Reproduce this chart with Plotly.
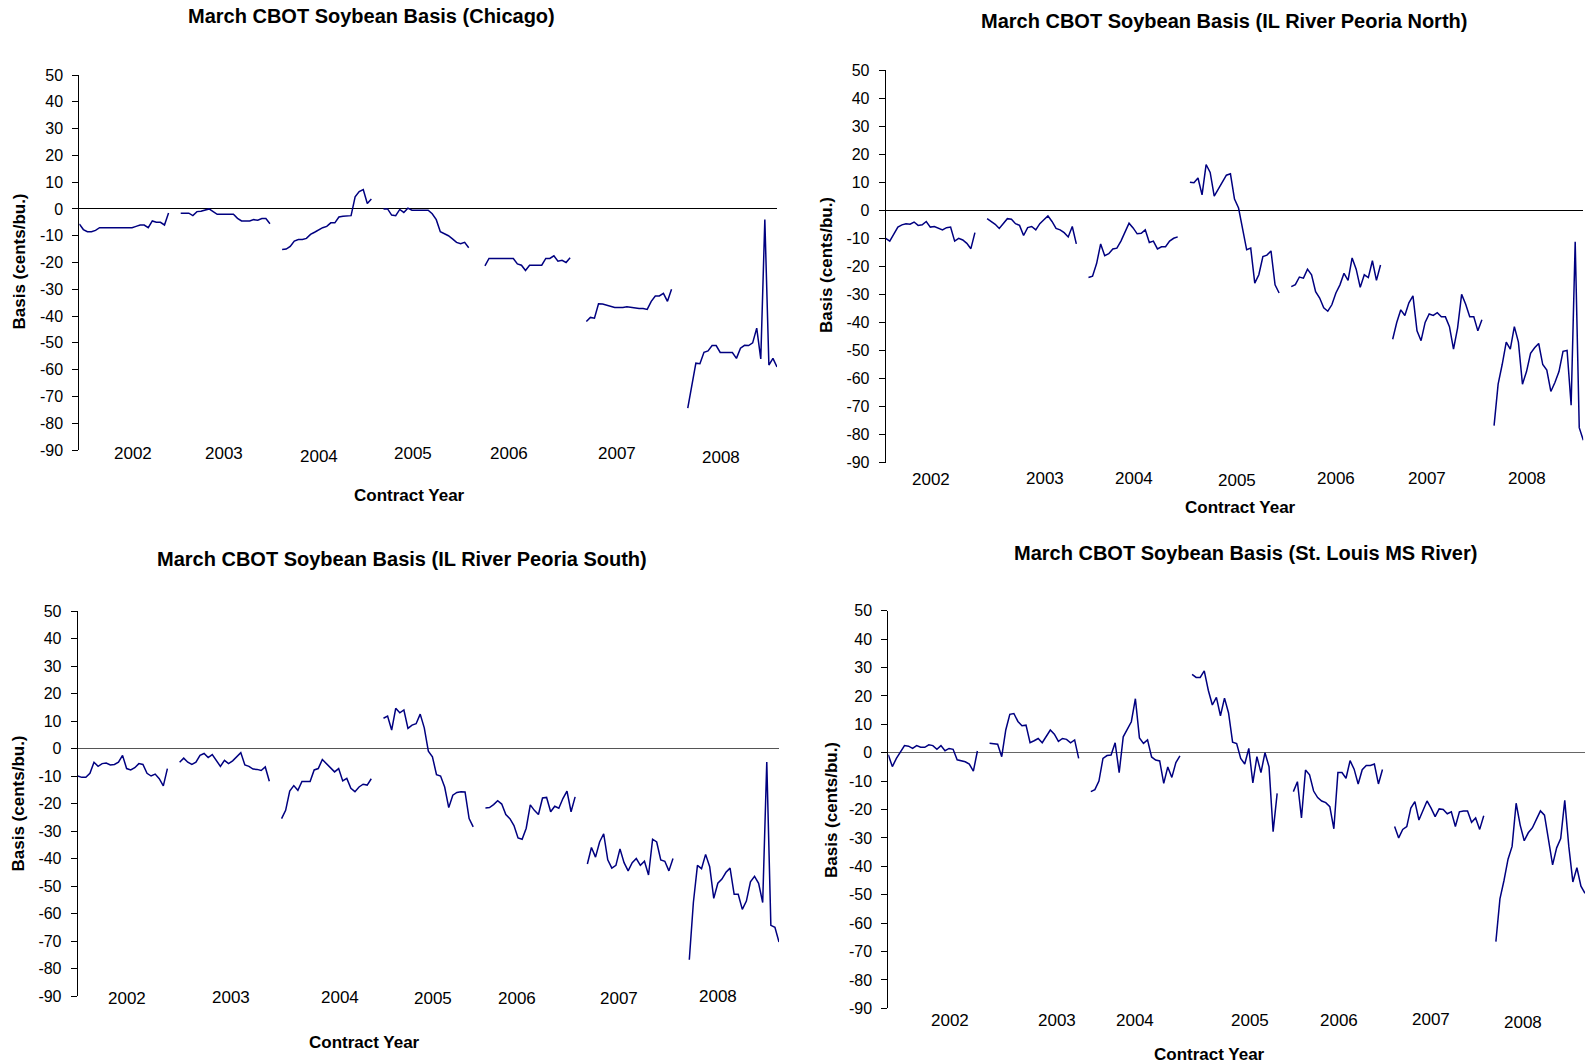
import plotly.graph_objects as go

W, H = 1585, 1064
FONT = "Arial, 'Liberation Sans', sans-serif"
LINE_COLOR = "#000080"

YEARS = ["2002", "2003", "2004", "2005", "2006", "2007", "2008"]
Y_TICKS = list(range(-90, 51, 10))
SLOTS = 23   # observations slots per contract year
GAP = 2      # blank categories between contract years

# ---------------- Chicago ----------------
CHI_2002 = [-5.6, -7.7, -8.5, -8.5, -8, -7, -7, -7, -7, -7, -7, -7, -7, -7, -6.5, -6, -6, -7, -4.5, -5, -5, -6, -1.5]
CHI_2003 = [-1.6, -1.6, -1.6, -2.5, -1, -0.9, -0.4, 0, -1, -2, -2, -2, -2, -2, -3.5, -4.5, -4.5, -4.5, -4, -4.2, -3.6, -3.6, -5.5]
CHI_2004 = [-15.1, -15, -14, -12, -11.4, -11.4, -11, -9.5, -8.7, -7.7, -7, -6.5, -5.2, -5.2, -3, -2.7, -2.7, -2.5, 4.5, 6.5, 7.2, 2, 3.7]
CHI_2005 = [0, 0, -2.3, -2.5, -0.2, -1.3, 0.3, -0.5, -0.5, -0.5, -0.5, -0.5, -1.8, -4, -8.5, -9.2, -10, -11.2, -12.5, -13, -12.5, -14.5]
CHI_2006 = [-21.3, -18.5, -18.5, -18.5, -18.5, -18.5, -18.5, -18.5, -20.5, -21, -23, -21, -21, -21, -21, -18.5, -18.5, -17.5, -19.5, -19.2, -20, -18.2]
CHI_2007 = [-42, -40.5, -40.8, -35.4, -35.5, -36, -36.5, -36.8, -36.8, -36.8, -36.5, -36.8, -37, -37.2, -37.2, -37.5, -34.5, -32.5, -32.5, -31.5, -34.5, -30]
CHI_2008 = [-74.4, -65.5, -57.6, -57.8, -53.5, -53, -51, -51, -53.6, -53.6, -53.6, -53.6, -55.8, -52, -50.9, -51, -50, -44.5, -56, -4, -58.3, -55.8, -59]

# ---------------- IL River Peoria North ----------------
PN_2002 = [-10, -11, -8.5, -6, -5.2, -4.8, -5, -4.2, -5.4, -5.2, -4, -6, -5.8, -6.3, -7, -6.2, -6, -11, -10, -10.6, -11.8, -13.7, -8]
PN_2003 = [-3, -4, -5, -6.5, -4.6, -3, -3.2, -4.8, -5.4, -9, -6.2, -5.8, -7, -4.8, -3.4, -2, -4, -6.5, -7, -8, -9.5, -5.8, -12]
PN_2004 = [-24, -23.5, -19, -12, -16.2, -15.5, -13.8, -13.5, -11, -7.5, -4.6, -6.3, -8.4, -8.2, -7, -11.5, -11, -13.8, -13, -13, -11, -10, -9.5]
PN_2005 = [10, 9.8, 11.5, 5.5, 16.3, 13.5, 5, 7.5, 9.5, 12.5, 13, 4, 0.8, -6, -14.1, -13.5, -26, -23, -16.5, -16, -14.5, -26.6, -29.5]
PN_2006 = [-27.2, -26.5, -23.8, -24.2, -21, -23, -29, -31.3, -34.8, -36, -33.7, -29.5, -26.6, -22.5, -25, -17, -21, -27.5, -23, -24, -18, -25, -19.5]
PN_2007 = [-46, -40, -35.5, -37.5, -33, -30.5, -43, -46.5, -40, -37, -37.5, -36.5, -38, -38, -41.5, -49.5, -42, -30, -33.5, -38, -38, -43, -39]
PN_2008 = [-76.8, -62, -55, -47, -49.5, -41.5, -47, -62, -57.5, -51, -49, -47.5, -55, -57, -64.6, -61.4, -57.5, -50.3, -50, -69.5, -11.2, -77.5, -82]

# ---------------- IL River Peoria South ----------------
PS_2002 = [-10, -10.5, -10.5, -9, -5, -6.5, -5.5, -5.3, -6, -5.8, -5, -2.5, -7.3, -7.8, -7, -5.5, -5.8, -9, -10, -9.3, -11, -13.6, -7.3]
PS_2003 = [-5, -3.5, -5, -5.8, -5, -2.5, -1.8, -3.3, -2.2, -4.5, -6.5, -4.3, -5.5, -4.5, -3, -1.5, -6, -6.5, -7.5, -7.6, -8, -6.7, -11.9]
PS_2004 = [-25.5, -22.5, -15.5, -13.5, -15.2, -12, -12, -12, -7.8, -7.3, -4, -5.6, -7.3, -8.5, -7.3, -11.8, -10.9, -14.5, -15.7, -14, -13, -13.3, -11]
PS_2005 = [11, 11.8, 6.7, 14.6, 13, 14, 7.3, 8.5, 9, 12.5, 7.5, -1, -3, -9.5, -10, -14, -21.5, -17, -16, -15.7, -15.8, -25.5, -28.5]
PS_2006 = [-21.6, -21.5, -20.4, -19, -20.2, -24, -25.5, -28, -32.5, -33, -29, -20.5, -22.5, -24, -18, -17.8, -23, -21, -21.7, -18.2, -15.5, -23, -17.6]
PS_2007 = [-42, -36, -39.5, -34, -31, -40.5, -43.5, -42.5, -36.5, -41.5, -44.5, -41.5, -40, -42.5, -41, -46, -33, -34, -40.5, -41, -44.5, -40]
PS_2008 = [-76.8, -56, -42.5, -43.7, -38.5, -43, -54.5, -49, -47.5, -45, -43.5, -53, -53, -58.5, -55.5, -48.5, -46.5, -49, -56, -4.9, -64.3, -65, -70.4]

# ---------------- St. Louis MS River ----------------
SL_2002 = [-0.7, -4.9, -2, 0.5, 2.5, 2.3, 1.5, 2.5, 1.9, 1.9, 2.8, 2.5, 1.2, 2.5, 0.7, 1.5, 1.2, -2.5, -2.8, -3.2, -4, -6.5, 0.6]
SL_2003 = [3.3, 3.2, 3, -1.4, 8, 13.5, 13.8, 11, 9.5, 9.7, 3.5, 4.2, 5, 3.5, 5.8, 8, 6.5, 4, 5, 4.7, 3.5, 4.5, -2]
SL_2004 = [-13.7, -13, -10, -2, -1, -0.8, 3.5, -7, 5.6, 8.2, 10.9, 19, 5.2, 3.3, 4.5, -1.5, -2.6, -2.9, -10.8, -5, -8.7, -3.5, -1.1]
SL_2005 = [27.6, 26.5, 26.5, 28.8, 22, 16.8, 19.5, 13, 19.2, 14, 3.7, 3.2, -2, -4, 1.5, -10.6, -1.4, -7, 0, -5, -27.8, -14.3]
SL_2006 = [-13.7, -10.2, -23, -6.1, -7.8, -13.5, -15.8, -17, -17.6, -19, -26.8, -7, -7, -9, -2.8, -5.8, -11, -6, -4.5, -4.5, -4, -11, -5.9]
SL_2007 = [-26, -30, -27, -26, -19.5, -17.2, -23.7, -20, -17, -19.5, -22.5, -19.8, -20, -21.5, -20.8, -26, -20.8, -20.5, -20.5, -24.5, -23, -27, -22.2]
SL_2008 = [-66.5, -51.5, -45, -37.5, -33, -17.8, -25.5, -31, -28.2, -26.5, -23.5, -20.5, -22, -30.5, -39.5, -33.5, -30.2, -16.8, -33, -45.5, -40.5, -47, -49.5]

PANELS = [
    dict(title="March CBOT Soybean Basis (Chicago)",
         segs=[CHI_2002, CHI_2003, CHI_2004, CHI_2005, CHI_2006, CHI_2007, CHI_2008],
         xdom=(79.3, 777), ydom=(75, 450), zc="#000000",
         title_pos=(371, 16), ytitle_pos=(19.5, 262), xtitle_pos=(409, 495),
         year_pos=[(132.5, 453), (223.5, 453), (318.5, 456), (412.5, 453), (508.5, 453), (617, 453), (721, 457)]),
    dict(title="March CBOT Soybean Basis (IL River Peoria North)",
         segs=[PN_2002, PN_2003, PN_2004, PN_2005, PN_2006, PN_2007, PN_2008],
         xdom=(885.7, 1583.3), ydom=(70, 462.7), zc="#000000",
         title_pos=(1224, 21), ytitle_pos=(826, 265), xtitle_pos=(1240.5, 507.5),
         year_pos=[(931.3, 479), (1044.5, 478.3), (1134.3, 478.3), (1237.2, 480.7), (1336.3, 478.3), (1426.7, 478.3), (1526.7, 478.3)]),
    dict(title="March CBOT Soybean Basis (IL River Peoria South)",
         segs=[PS_2002, PS_2003, PS_2004, PS_2005, PS_2006, PS_2007, PS_2008],
         xdom=(77.7, 779), ydom=(611, 996), zc="#555555",
         title_pos=(402, 559), ytitle_pos=(17.5, 804), xtitle_pos=(364.5, 1042),
         year_pos=[(126.7, 998.3), (231.3, 997.3), (339.5, 997.3), (432.5, 998.3), (517.3, 998.3), (618.7, 998.3), (718, 996.7)]),
    dict(title="March CBOT Soybean Basis (St. Louis MS River)",
         segs=[SL_2002, SL_2003, SL_2004, SL_2005, SL_2006, SL_2007, SL_2008],
         xdom=(888.3, 1585), ydom=(610.7, 1008.3), zc="#666666",
         title_pos=(1245.5, 553), ytitle_pos=(831, 810), xtitle_pos=(1209.6, 1054.5),
         year_pos=[(949.8, 1020.7), (1057.3, 1020.7), (1134.7, 1020.7), (1250.3, 1020.7), (1339, 1020.7), (1430.7, 1019.3), (1523.3, 1022.7)]),
]


def build(segs):
    xs, ys = [], []
    for k, seg in enumerate(segs):
        base = k * (SLOTS + GAP)
        for i, v in enumerate(seg):
            xs.append(base + i)
            ys.append(v)
        xs.append(None)
        ys.append(None)
    return xs, ys


def px(x):
    return x / W


def py(y):
    return 1 - y / H


fig = go.Figure()
annotations = []
xmax = 7 * (SLOTS + GAP) - GAP - 1

for n, p in enumerate(PANELS, start=1):
    xs, ys = build(p["segs"])
    sfx = "" if n == 1 else str(n)
    fig.add_trace(go.Scatter(x=xs, y=ys, mode="lines", xaxis="x" + sfx, yaxis="y" + sfx,
                             line=dict(color=LINE_COLOR, width=1.5), showlegend=False,
                             connectgaps=False, hoverinfo="skip"))
    fig.layout["xaxis" + sfx] = dict(domain=[px(p["xdom"][0]), px(p["xdom"][1])], range=[0, xmax],
                                     anchor="y" + sfx, visible=False, showgrid=False, zeroline=False)
    fig.layout["yaxis" + sfx] = dict(domain=[py(p["ydom"][1]), py(p["ydom"][0])], range=[-90, 50],
                                     anchor="x" + sfx, tickmode="array", tickvals=Y_TICKS,
                                     ticktext=[str(t) for t in Y_TICKS],
                                     ticks="outside", ticklen=6, tickcolor="#000000", tickwidth=1,
                                     showline=True, linecolor="#000000", linewidth=1,
                                     showgrid=False, zeroline=True, zerolinecolor=p["zc"], zerolinewidth=1,
                                     tickfont=dict(family=FONT, size=16, color="#000000"),
                                     ticklabelstandoff=6, automargin=False)
    annotations.append(dict(text="<b>" + p["title"] + "</b>", x=px(p["title_pos"][0]), y=py(p["title_pos"][1]),
                            xref="paper", yref="paper", showarrow=False, xanchor="center", yanchor="middle",
                            font=dict(family=FONT, size=20, color="#000000")))
    annotations.append(dict(text="<b>Basis (cents/bu.)</b>", x=px(p["ytitle_pos"][0]), y=py(p["ytitle_pos"][1]),
                            xref="paper", yref="paper", showarrow=False, xanchor="center", yanchor="middle",
                            textangle=-90, font=dict(family=FONT, size=17, color="#000000")))
    annotations.append(dict(text="<b>Contract Year</b>", x=px(p["xtitle_pos"][0]), y=py(p["xtitle_pos"][1]),
                            xref="paper", yref="paper", showarrow=False, xanchor="center", yanchor="middle",
                            font=dict(family=FONT, size=17, color="#000000")))
    for yr, (lx, ly) in zip(YEARS, p["year_pos"]):
        annotations.append(dict(text=yr, x=px(lx), y=py(ly), xref="paper", yref="paper", showarrow=False,
                                xanchor="center", yanchor="middle",
                                font=dict(family=FONT, size=17, color="#000000")))

fig.update_layout(width=W, height=H, margin=dict(l=0, r=0, t=0, b=0, pad=0),
                  paper_bgcolor="white", plot_bgcolor="white",
                  annotations=annotations, font=dict(family=FONT, color="#000000"))

fig.write_html("out.html", config={"displayModeBar": False, "staticPlot": True},
               post_script="document.body.style.margin='0';document.body.style.overflow='hidden';")
